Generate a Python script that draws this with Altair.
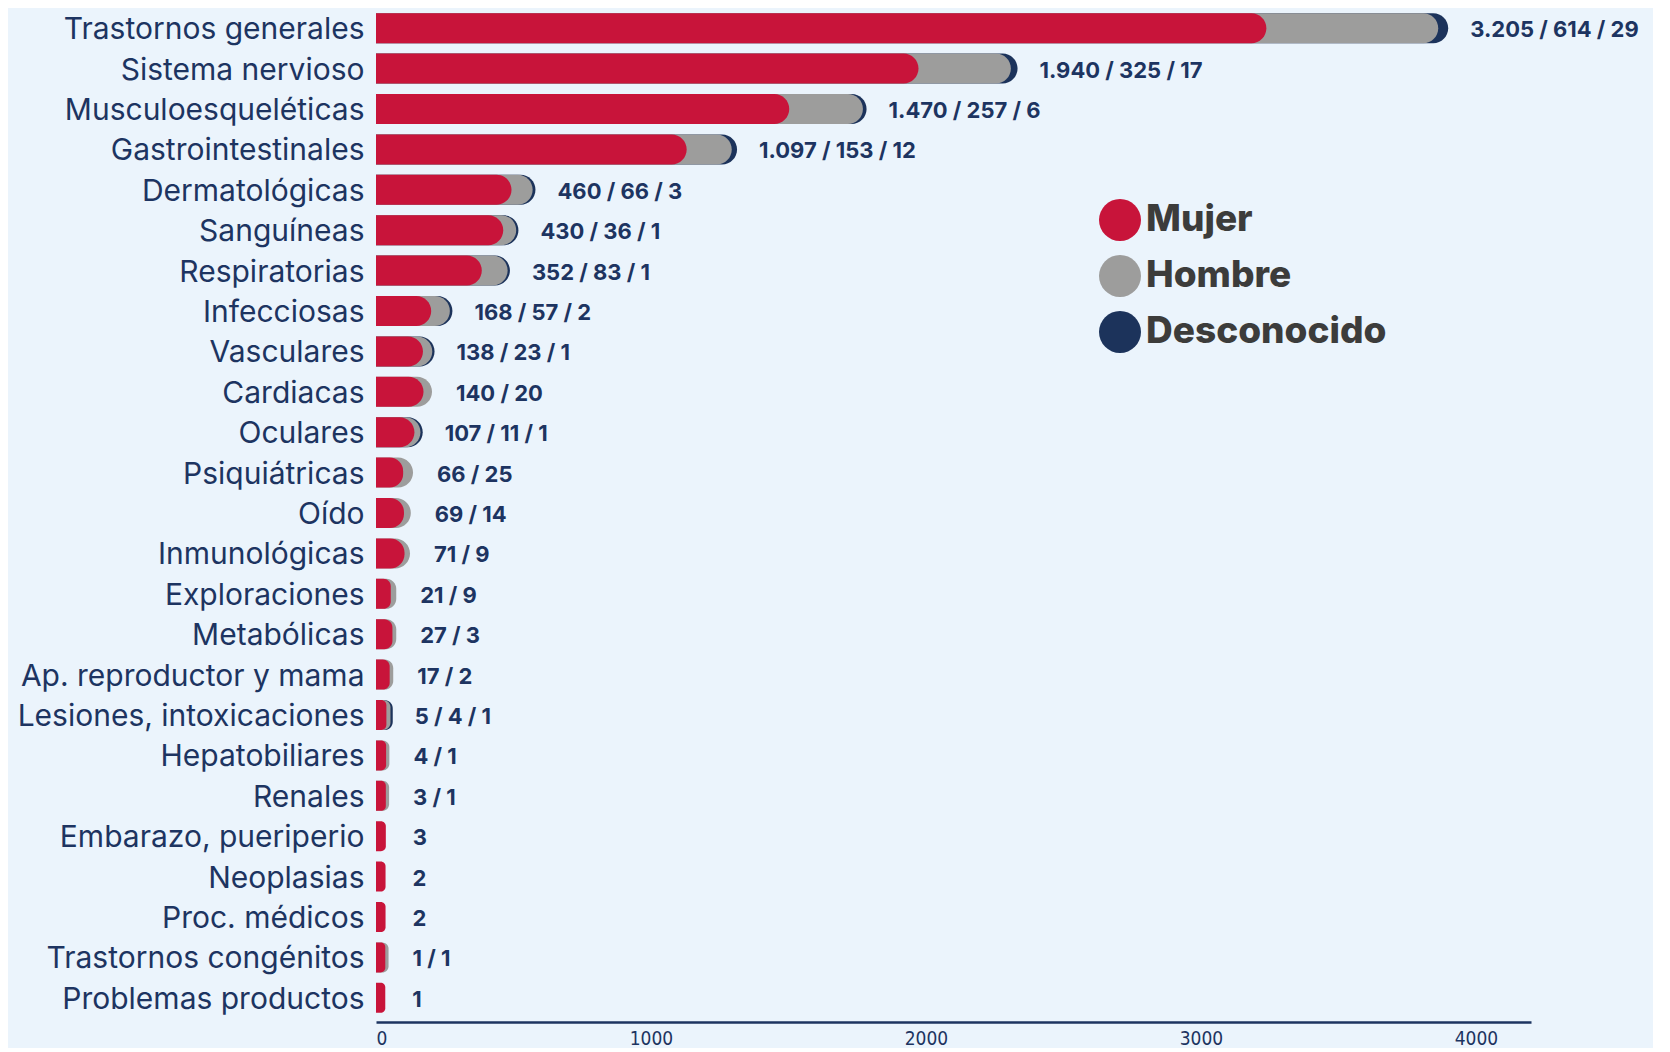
import altair as alt
import pandas as pd

categorias = [
    "Trastornos generales", "Sistema nervioso", "Musculoesqueléticas", "Gastrointestinales",
    "Dermatológicas", "Sanguíneas", "Respiratorias", "Infecciosas", "Vasculares", "Cardiacas",
    "Oculares", "Psiquiátricas", "Oído", "Inmunológicas", "Exploraciones", "Metabólicas",
    "Ap. reproductor y mama", "Lesiones, intoxicaciones", "Hepatobiliares", "Renales",
    "Embarazo, pueriperio", "Neoplasias", "Proc. médicos", "Trastornos congénitos",
    "Problemas productos",
]
mujer = [3205, 1940, 1470, 1097, 460, 430, 352, 168, 138, 140, 107, 66, 69, 71, 21, 27, 17, 5, 4, 3, 3, 2, 2, 1, 1]
hombre = [614, 325, 257, 153, 66, 36, 83, 57, 23, 20, 11, 25, 14, 9, 9, 3, 2, 4, 1, 1, 0, 0, 0, 1, 0]
desconocido = [29, 17, 6, 12, 3, 1, 1, 2, 1, 0, 1, 0, 0, 0, 0, 0, 0, 1, 0, 0, 0, 0, 0, 0, 0]

series = ["Mujer", "Hombre", "Desconocido"]
colores = ["#C8143A", "#9D9D9C", "#1C335B"]
ticks_x = [0, 1000, 2000, 3000, 4000]

NAVY = "#1D3461"
BG = "#EBF4FC"


def fmt(n):
    return f"{n:,}".replace(",", ".")


long_rows = []
text_rows = []
for i, c in enumerate(categorias):
    m, h, d = mujer[i], hombre[i], desconocido[i]
    for serie, val, end in (("Desconocido", d, m + h + d), ("Hombre", h, m + h), ("Mujer", m, m)):
        if val > 0:
            long_rows.append({"cat": c, "serie": serie, "val": val, "end": end})
    text_rows.append({
        "cat": c,
        "total": m + h + d,
        "label": " / ".join(fmt(v) for v in (m, h, d) if v > 0),
    })

df = pd.DataFrame(long_rows)
dft = pd.DataFrame(text_rows)

yenc = alt.Y(
    "cat:N",
    sort=categorias,
    title=None,
    scale=alt.Scale(paddingInner=0, paddingOuter=0),
    axis=alt.Axis(
        domain=False, ticks=False, labelPadding=12, labelLimit=500, labelOffset=2,
        labelFont="Inter", labelFontSize=30, labelColor=NAVY,
        labelFontWeight=400, minExtent=363, maxExtent=363,
    ),
)
xscale = alt.Scale(domain=[0, 4200], nice=False, zero=True)
xenc = alt.X(
    "end:Q",
    scale=xscale,
    title=None,
    axis=alt.Axis(
        values=ticks_x, format="d", grid=False, ticks=False,
        domain=True, domainColor=NAVY, domainWidth=2.5, offset=4,
        labelFont="DejaVu Sans Condensed",
        labelFontSize=19, labelColor=NAVY, labelPadding=7,
    ),
)
color = alt.Color(
    "serie:N",
    scale=alt.Scale(domain=series, range=colores),
    legend=alt.Legend(
        title=None, orient="none", legendX=723, legendY=191,
        symbolType="circle", symbolSize=1764, symbolStrokeWidth=0, symbolOpacity=1,
        labelFont="Inter", labelFontSize=37, labelFontWeight=800, labelColor="#3C3C3B",
        labelOffset=5, rowPadding=14, padding=0, labelLimit=500,
    ),
)

base = alt.Chart(df).encode(y=yenc, x=xenc, x2=alt.datum(0), color=color)

bar_kw = dict(size=30, cornerRadiusTopRight=15, cornerRadiusBottomRight=15)
capa_desc = base.transform_filter(alt.datum.serie == "Desconocido").mark_bar(xOffset=14, **bar_kw)
capa_hom = base.transform_filter(alt.datum.serie == "Hombre").mark_bar(xOffset=12, **bar_kw)
capa_muj = base.transform_filter(alt.datum.serie == "Mujer").mark_bar(xOffset=9, **bar_kw)

textos = alt.Chart(dft).mark_text(
    align="left", baseline="middle", dx=36, dy=2, font="Inter", fontSize=22,
    fontWeight="bold", color=NAVY,
).encode(
    y=alt.Y("cat:N", sort=categorias),
    x=alt.X("total:Q", scale=xscale),
    text="label:N",
)

chart = alt.layer(capa_desc, capa_hom, capa_muj, textos).properties(
    width=1155, height=1010,
    padding={"left": 5, "top": 0, "right": 14, "bottom": 0},
    background=BG,
).configure_view(stroke=None)

chart.save("out.html", embed_options={"renderer": "svg", "actions": False})
